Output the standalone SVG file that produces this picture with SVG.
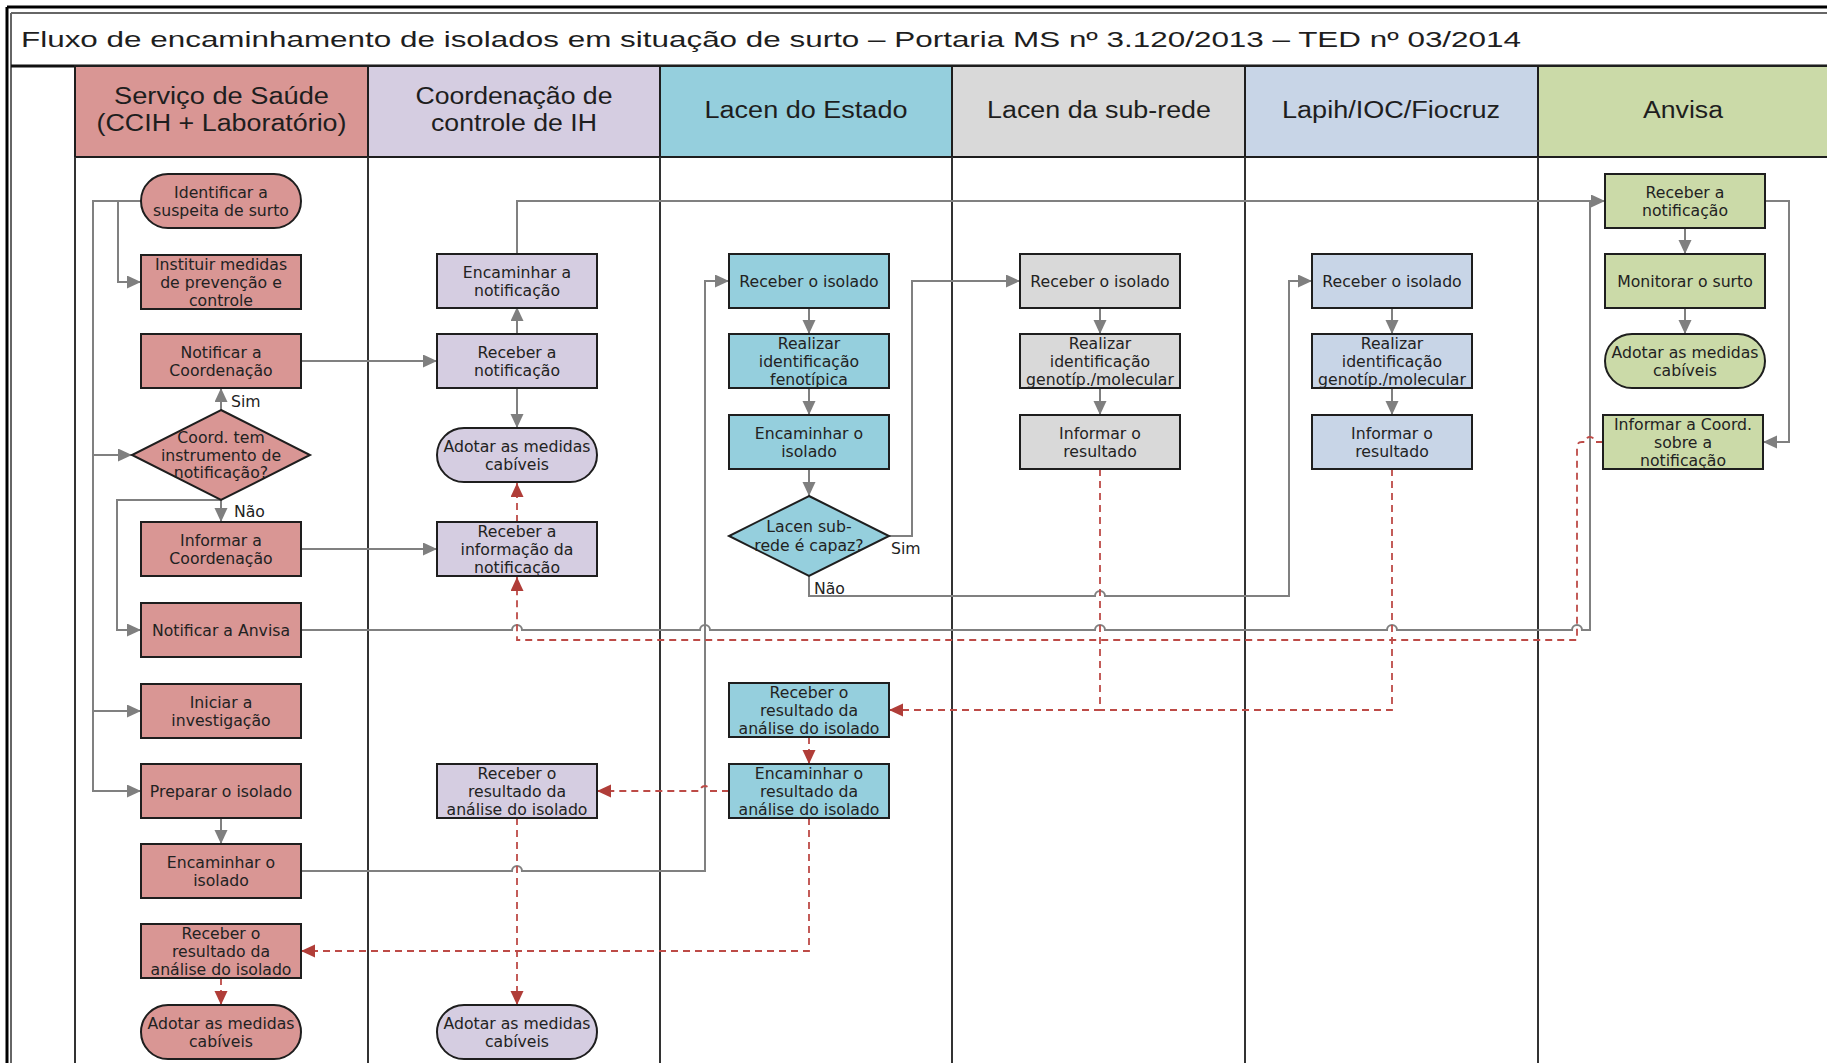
<svg xmlns="http://www.w3.org/2000/svg" width="1827" height="1063" viewBox="0 0 1827 1063">
<defs>
<style>
.node text, .lbl { font-family: "DejaVu Sans", "Noto Sans", sans-serif; font-size: 15.7px; fill: #222; text-anchor: middle; }
.lbl { text-anchor: start; }
.box { stroke: #1e1e1e; stroke-width: 2; }
.c1 { fill: #d99694; }
.c2 { fill: #d5cde1; }
.c3 { fill: #95cfdd; }
.c4 { fill: #d9d9d9; }
.c5 { fill: #c8d5e7; }
.c6 { fill: #cbdaa8; }
.hdr rect { stroke: #1e1e1e; stroke-width: 2; }
.hdr text { font-family: "Liberation Sans", Arial, sans-serif; font-size: 23.5px; fill: #1e1e1e; text-anchor: middle; }
.lane { stroke: #333; stroke-width: 2; fill: none; }
.flow { fill: none; stroke: #808080; stroke-width: 2; }
.dash { fill: none; stroke: #bd4b47; stroke-width: 1.8; stroke-dasharray: 7 5; }
</style>
<marker id="ag" markerUnits="userSpaceOnUse" markerWidth="15" markerHeight="14" refX="14" refY="6.5" orient="auto"><path d="M0,0 L14,6.5 L0,13 z" fill="#7f7f7f"/></marker>
<marker id="ar" markerUnits="userSpaceOnUse" markerWidth="15" markerHeight="14" refX="14" refY="6.5" orient="auto"><path d="M0,0 L14,6.5 L0,13 z" fill="#b03d38"/></marker>
</defs>
<rect x="0" y="0" width="1827" height="1063" fill="#fff"/>

<g id="frame">
<path d="M7,7 H1827 M7,7 V1063" stroke="#000" stroke-width="3" fill="none"/>
<path d="M11,13 H1827 M11,13 V1063" stroke="#666" stroke-width="2" fill="none"/>
<text x="21" y="47" font-family="Liberation Sans, Arial, sans-serif" font-size="22.5" fill="#1e1e1e" textLength="1500" lengthAdjust="spacingAndGlyphs">Fluxo de encaminhamento de isolados em situação de surto – Portaria MS nº 3.120/2013 – TED nº 03/2014</text>
<path d="M11,66 H1827" stroke="#111" stroke-width="3"/>
</g>

<g id="headers" class="hdr">
<rect x="75" y="66" width="293" height="91" class="c1"/>
<rect x="368" y="66" width="292" height="91" class="c2"/>
<rect x="660" y="66" width="292" height="91" class="c3"/>
<rect x="952" y="66" width="293" height="91" class="c4"/>
<rect x="1245" y="66" width="293" height="91" class="c5"/>
<rect x="1538" y="66" width="300" height="91" class="c6"/>
<text x="221.5" y="104" textLength="215" lengthAdjust="spacingAndGlyphs">Serviço de Saúde</text>
<text x="221.5" y="131" textLength="250" lengthAdjust="spacingAndGlyphs">(CCIH + Laboratório)</text>
<text x="514" y="104" textLength="197" lengthAdjust="spacingAndGlyphs">Coordenação de</text>
<text x="514" y="131" textLength="166" lengthAdjust="spacingAndGlyphs">controle de IH</text>
<text x="806" y="118" textLength="203" lengthAdjust="spacingAndGlyphs">Lacen do Estado</text>
<text x="1099" y="118" textLength="224" lengthAdjust="spacingAndGlyphs">Lacen da sub-rede</text>
<text x="1391" y="118" textLength="218" lengthAdjust="spacingAndGlyphs">Lapih/IOC/Fiocruz</text>
<text x="1683" y="118" textLength="80" lengthAdjust="spacingAndGlyphs">Anvisa</text>
</g>

<g id="lanes">
<path class="lane" d="M75,157 V1063 M368,157 V1063 M660,157 V1063 M952,157 V1063 M1245,157 V1063 M1538,157 V1063"/>
</g>

<g id="connectors">
<path class="flow" d="M141,201 H93 V791 H141" marker-end="url(#ag)"/>
<path class="flow" d="M93,455 H132" marker-end="url(#ag)"/>
<path class="flow" d="M93,711 H141" marker-end="url(#ag)"/>
<path class="flow" d="M141,201 H118 V282 H141" marker-end="url(#ag)"/>
<path class="flow" d="M221,410 V388" marker-end="url(#ag)"/>
<path class="flow" d="M221,500 V522" marker-end="url(#ag)"/>
<path class="flow" d="M221,500 H117 V630 H141" marker-end="url(#ag)"/>
<path class="flow" d="M301,361 H437" marker-end="url(#ag)"/>
<path class="flow" d="M517,334 V307" marker-end="url(#ag)"/>
<path class="flow" d="M517,388 V428" marker-end="url(#ag)"/>
<path class="flow" d="M517,254 V201 H1605" marker-end="url(#ag)"/>
<path class="flow" d="M301,630 H512 a5,5 0 0 1 10,0 H700 a5,5 0 0 1 10,0 H1095 a5,5 0 0 1 10,0 H1387 a5,5 0 0 1 10,0 H1572 a5,5 0 0 1 10,0 H1590 V201"/>
<path class="flow" d="M301,549 H437" marker-end="url(#ag)"/>
<path class="flow" d="M221,818 V844" marker-end="url(#ag)"/>
<path class="flow" d="M301,871 H512 a5,5 0 0 1 10,0 H705 V281 H729" marker-end="url(#ag)"/>
<path class="flow" d="M809,307 V334" marker-end="url(#ag)"/>
<path class="flow" d="M809,388 V415" marker-end="url(#ag)"/>
<path class="flow" d="M809,469 V496" marker-end="url(#ag)"/>
<path class="flow" d="M889,536 H912 V281 H1020" marker-end="url(#ag)"/>
<path class="flow" d="M809,576 V596 H1095 a5,5 0 0 1 10,0 H1289 V281 H1312" marker-end="url(#ag)"/>
<path class="flow" d="M1100,307 V334" marker-end="url(#ag)"/>
<path class="flow" d="M1100,388 V415" marker-end="url(#ag)"/>
<path class="flow" d="M1392,307 V334" marker-end="url(#ag)"/>
<path class="flow" d="M1392,388 V415" marker-end="url(#ag)"/>
<path class="flow" d="M1685,228 V254" marker-end="url(#ag)"/>
<path class="flow" d="M1685,307 V334" marker-end="url(#ag)"/>
<path class="flow" d="M1765,201 H1789 V442 H1763" marker-end="url(#ag)"/>

<path class="dash" d="M1603,442 H1595 a5,5 0 0 0 -10,0 H1582 Q1577,442 1577,447 V640 H517 V577" marker-end="url(#ar)"/>
<path class="dash" d="M517,522 V483" marker-end="url(#ar)"/>
<path class="dash" d="M1100,469 V710 H889" marker-end="url(#ar)"/>
<path class="dash" d="M1392,469 V710 H1100"/>
<path class="dash" d="M809,737 V764" marker-end="url(#ar)"/>
<path class="dash" d="M729,791 H710 a5,5 0 0 0 -10,0 H597" marker-end="url(#ar)"/>
<path class="dash" d="M809,818 V951 H301" marker-end="url(#ar)"/>
<path class="dash" d="M517,818 V1005" marker-end="url(#ar)"/>
<path class="dash" d="M221,978 V1005" marker-end="url(#ar)"/>

<text class="lbl" x="231" y="407">Sim</text>
<text class="lbl" x="234" y="517">Não</text>
<text class="lbl" x="891" y="554">Sim</text>
<text class="lbl" x="814" y="594">Não</text>
</g>

<g id="n-identificar" class="node"><rect class="box c1" x="141" y="174" width="160" height="54" rx="27"/><text x="221" y="197.5">Identificar a</text><text x="221" y="215.5">suspeita de surto</text></g>
<g id="n-instituir" class="node"><rect class="box c1" x="141" y="255" width="160" height="54"/><text x="221" y="269.5">Instituir medidas</text><text x="221" y="287.5">de prevenção e</text><text x="221" y="305.5">controle</text></g>
<g id="n-notificar-coord" class="node"><rect class="box c1" x="141" y="334" width="160" height="54"/><text x="221" y="357.5">Notificar a</text><text x="221" y="375.5">Coordenação</text></g>
<g id="n-coord-instrumento" class="node"><polygon class="box c1" points="221,410 310,455 221,500 132,455"/><text x="221" y="443">Coord. tem</text><text x="221" y="460.5">instrumento de</text><text x="221" y="478">notificação?</text></g>
<g id="n-informar-coord" class="node"><rect class="box c1" x="141" y="522" width="160" height="54"/><text x="221" y="545.5">Informar a</text><text x="221" y="563.5">Coordenação</text></g>
<g id="n-notificar-anvisa" class="node"><rect class="box c1" x="141" y="603" width="160" height="54"/><text x="221" y="635.5">Notificar a Anvisa</text></g>
<g id="n-iniciar" class="node"><rect class="box c1" x="141" y="684" width="160" height="54"/><text x="221" y="707.5">Iniciar a</text><text x="221" y="725.5">investigação</text></g>
<g id="n-preparar" class="node"><rect class="box c1" x="141" y="764" width="160" height="54"/><text x="221" y="796.5">Preparar o isolado</text></g>
<g id="n-encaminhar-isolado-1" class="node"><rect class="box c1" x="141" y="844" width="160" height="54"/><text x="221" y="867.5">Encaminhar o</text><text x="221" y="885.5">isolado</text></g>
<g id="n-receber-resultado-1" class="node"><rect class="box c1" x="141" y="924" width="160" height="54"/><text x="221" y="938.5">Receber o</text><text x="221" y="956.5">resultado da</text><text x="221" y="974.5">análise do isolado</text></g>
<g id="n-adotar-1" class="node"><rect class="box c1" x="141" y="1005" width="160" height="54" rx="27"/><text x="221" y="1028.5">Adotar as medidas</text><text x="221" y="1046.5">cabíveis</text></g>

<g id="n-encaminhar-notificacao" class="node"><rect class="box c2" x="437" y="254" width="160" height="54"/><text x="517" y="277.5">Encaminhar a</text><text x="517" y="295.5">notificação</text></g>
<g id="n-receber-notificacao-2" class="node"><rect class="box c2" x="437" y="334" width="160" height="54"/><text x="517" y="357.5">Receber a</text><text x="517" y="375.5">notificação</text></g>
<g id="n-adotar-2a" class="node"><rect class="box c2" x="437" y="428" width="160" height="54" rx="27"/><text x="517" y="451.5">Adotar as medidas</text><text x="517" y="469.5">cabíveis</text></g>
<g id="n-receber-informacao" class="node"><rect class="box c2" x="437" y="522" width="160" height="54"/><text x="517" y="536.5">Receber a</text><text x="517" y="554.5">informação da</text><text x="517" y="572.5">notificação</text></g>
<g id="n-receber-resultado-2" class="node"><rect class="box c2" x="437" y="764" width="160" height="54"/><text x="517" y="778.5">Receber o</text><text x="517" y="796.5">resultado da</text><text x="517" y="814.5">análise do isolado</text></g>
<g id="n-adotar-2b" class="node"><rect class="box c2" x="437" y="1005" width="160" height="54" rx="27"/><text x="517" y="1028.5">Adotar as medidas</text><text x="517" y="1046.5">cabíveis</text></g>

<g id="n-receber-isolado-3" class="node"><rect class="box c3" x="729" y="254" width="160" height="54"/><text x="809" y="286.5">Receber o isolado</text></g>
<g id="n-realizar-fenotipica" class="node"><rect class="box c3" x="729" y="334" width="160" height="54"/><text x="809" y="348.5">Realizar</text><text x="809" y="366.5">identificação</text><text x="809" y="384.5">fenotípica</text></g>
<g id="n-encaminhar-isolado-3" class="node"><rect class="box c3" x="729" y="415" width="160" height="54"/><text x="809" y="438.5">Encaminhar o</text><text x="809" y="456.5">isolado</text></g>
<g id="n-subrede-capaz" class="node"><polygon class="box c3" points="809,496 889,536 809,576 729,536"/><text x="809" y="532">Lacen sub-</text><text x="809" y="550.5">rede é capaz?</text></g>
<g id="n-receber-resultado-3" class="node"><rect class="box c3" x="729" y="683" width="160" height="54"/><text x="809" y="697.5">Receber o</text><text x="809" y="715.5">resultado da</text><text x="809" y="733.5">análise do isolado</text></g>
<g id="n-encaminhar-resultado-3" class="node"><rect class="box c3" x="729" y="764" width="160" height="54"/><text x="809" y="778.5">Encaminhar o</text><text x="809" y="796.5">resultado da</text><text x="809" y="814.5">análise do isolado</text></g>

<g id="n-receber-isolado-4" class="node"><rect class="box c4" x="1020" y="254" width="160" height="54"/><text x="1100" y="286.5">Receber o isolado</text></g>
<g id="n-realizar-genotipica-4" class="node"><rect class="box c4" x="1020" y="334" width="160" height="54"/><text x="1100" y="348.5">Realizar</text><text x="1100" y="366.5">identificação</text><text x="1100" y="384.5">genotíp./molecular</text></g>
<g id="n-informar-resultado-4" class="node"><rect class="box c4" x="1020" y="415" width="160" height="54"/><text x="1100" y="438.5">Informar o</text><text x="1100" y="456.5">resultado</text></g>

<g id="n-receber-isolado-5" class="node"><rect class="box c5" x="1312" y="254" width="160" height="54"/><text x="1392" y="286.5">Receber o isolado</text></g>
<g id="n-realizar-genotipica-5" class="node"><rect class="box c5" x="1312" y="334" width="160" height="54"/><text x="1392" y="348.5">Realizar</text><text x="1392" y="366.5">identificação</text><text x="1392" y="384.5">genotíp./molecular</text></g>
<g id="n-informar-resultado-5" class="node"><rect class="box c5" x="1312" y="415" width="160" height="54"/><text x="1392" y="438.5">Informar o</text><text x="1392" y="456.5">resultado</text></g>

<g id="n-receber-notificacao-6" class="node"><rect class="box c6" x="1605" y="174" width="160" height="54"/><text x="1685" y="197.5">Receber a</text><text x="1685" y="215.5">notificação</text></g>
<g id="n-monitorar" class="node"><rect class="box c6" x="1605" y="254" width="160" height="54"/><text x="1685" y="286.5">Monitorar o surto</text></g>
<g id="n-adotar-6" class="node"><rect class="box c6" x="1605" y="334" width="160" height="54" rx="27"/><text x="1685" y="357.5">Adotar as medidas</text><text x="1685" y="375.5">cabíveis</text></g>
<g id="n-informar-coord-6" class="node"><rect class="box c6" x="1603" y="415" width="160" height="54"/><text x="1683" y="429.5">Informar a Coord.</text><text x="1683" y="447.5">sobre a</text><text x="1683" y="465.5">notificação</text></g>
</svg>
